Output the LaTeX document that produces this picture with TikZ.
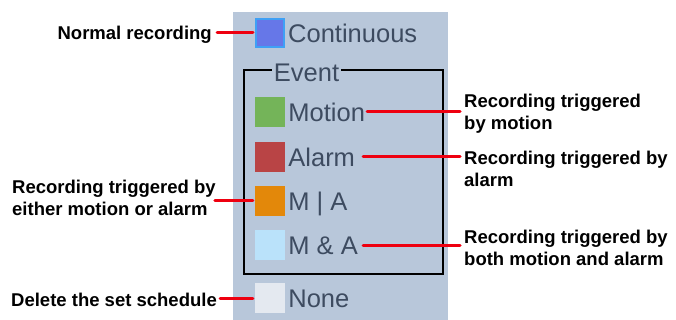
\documentclass[tikz,border=0pt]{standalone}
\usepackage{fontspec}
\setmainfont{Liberation Sans}
\usetikzlibrary{positioning}
\definecolor{panelbg}{HTML}{B8C7DA}
\definecolor{itemtext}{HTML}{3D4B60}
\definecolor{conred}{HTML}{EE0010}
\definecolor{contfill}{HTML}{6677E8}
\definecolor{contedge}{HTML}{3FA0F5}
\definecolor{motionc}{HTML}{74B459}
\definecolor{alarmc}{HTML}{B94445}
\definecolor{eitherc}{HTML}{E3880A}
\definecolor{bothc}{HTML}{BAE2FA}
\definecolor{nonec}{HTML}{E4E9F0}
\begin{document}
\begin{tikzpicture}[x=1pt, y=-1pt,
        swatch/.style={rectangle, minimum size=30pt, inner sep=0pt},
        item/.style={inner sep=0pt, text height=18.3pt, text depth=0pt, text=itemtext, font=\fontsize{25.5}{30}\selectfont},
        note/.style={inner sep=2pt, align=left, font=\fontsize{18.5}{22}\selectfont\bfseries},
        link/.style={conred, line width=3pt, line cap=round}
    ]
        \useasboundingbox (0,0) rectangle (676,320);
        \fill[panelbg] (233,12) rectangle (448,320);
        \draw[line width=2.3pt] (244,70) rectangle (443,274);
        \node[item, fill=panelbg, inner xsep=1.5pt] (event) at (306.5,72.5) {Event};

        \node[swatch, minimum size=28pt, fill=contfill, draw=contedge, line width=2pt] (swcont) at (270,33) {};
        \node[swatch, fill=motionc] (swmotion) at (270,112) {};
        \node[swatch, fill=alarmc] (swalarm) at (270,157) {};
        \node[swatch, fill=eitherc] (sweither) at (270,201) {};
        \node[swatch, fill=bothc] (swboth) at (270,245) {};
        \node[swatch, fill=nonec] (swnone) at (270,298) {};

        \node[item, right=3pt of swcont] (txtcont) {Continuous};
        \node[item, right=3pt of swmotion] (txtmotion) {Motion};
        \node[item, right=3pt of swalarm] (txtalarm) {Alarm};
        \node[item, right=3pt of sweither] (txteither) {M | A};
        \node[item, right=3pt of swboth] (txtboth) {M \& A};
        \node[item, right=3pt of swnone] (txtnone) {None};

        \node[note, anchor=base east] (lblnormal) at (214,39.6) {Normal recording};
        \node[note, anchor=north west] (lbleither) at (10,178) {Recording triggered by\\either motion or alarm};
        \node[note, anchor=base west] (lblnone) at (9,306.6) {Delete the set schedule};
        \node[note, anchor=north west] (lblmotion) at (462,92) {Recording triggered\\by motion};
        \node[note, anchor=north west] (lblalarm) at (462,149) {Recording triggered by\\alarm};
        \node[note, anchor=north west] (lblboth) at (462,228) {Recording triggered by\\both motion and alarm};

        \draw[link, shorten <=3pt, shorten >=2pt] (lblnormal.east |- swcont) -- (swcont.west);
        \draw[link, shorten <=-3pt, shorten >=2pt] (sweither.west -| lbleither.east) -- (sweither.west);
        \draw[link, shorten <=1pt, shorten >=2pt] (lblnone.east |- swnone) -- (swnone.west);
        \draw[link, shorten <=2pt, shorten >=2pt] (txtmotion.east) -- (txtmotion.east -| lblmotion.west);
        \draw[link, shorten <=8pt, shorten >=2pt] (txtalarm.east) -- (txtalarm.east -| lblalarm.west);
        \draw[link, shorten <=5pt, shorten >=2pt] (txtboth.east) -- (txtboth.east -| lblboth.west);
    \end{tikzpicture}
\end{document}
